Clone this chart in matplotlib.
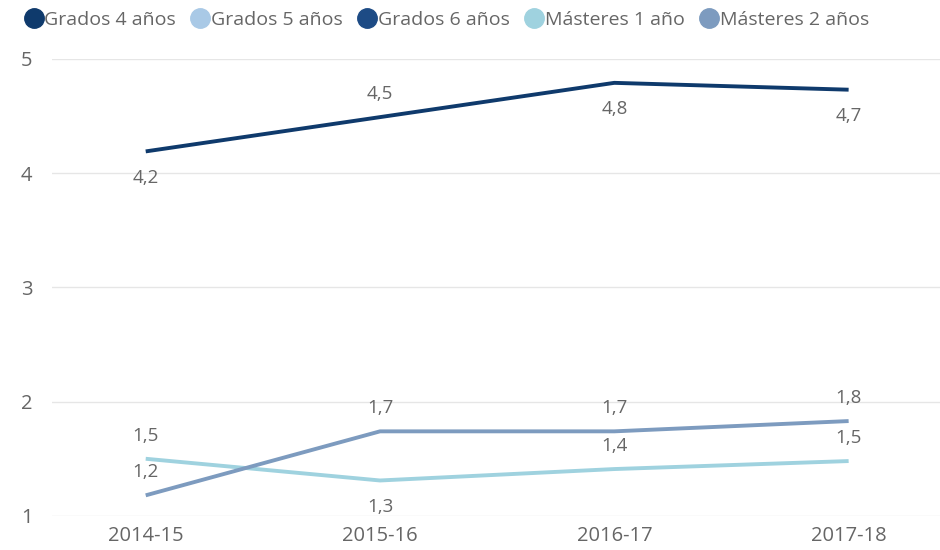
import matplotlib.pyplot as plt
from matplotlib.lines import Line2D

cursos = ["2014-15", "2015-16", "2016-17", "2017-18"]
grados_4 = [4.19, 4.49, 4.79, 4.73]
masteres_1 = [1.50, 1.31, 1.41, 1.48]
masteres_2 = [1.18, 1.74, 1.74, 1.83]

series = ["Grados 4 años", "Grados 5 años", "Grados 6 años", "Másteres 1 año", "Másteres 2 años"]
colores = ["#0f3a6c", "#a9c9e6", "#1d4b85", "#9fd2df", "#7d9bbf"]

# posiciones de las etiquetas: 1 = encima, -1 = debajo
pos_g4 = [-1, 1, -1, -1]
pos_m1 = [1, -1, 1, 1]
pos_m2 = [1, 1, 1, 1]

plt.rcParams["font.family"] = ["Open Sans", "DejaVu Sans"]
gris = "#666666"

fig = plt.figure(figsize=(9.4, 5.5), dpi=100)
ax = fig.add_axes([0.0553, 0.062, 0.9447, 0.831])

x = list(range(len(cursos)))
for vals, col, pos in [(grados_4, colores[0], pos_g4),
                       (masteres_1, colores[3], pos_m1),
                       (masteres_2, colores[4], pos_m2)]:
    ax.plot(x, vals, color=col, lw=2.8, solid_capstyle="butt")
    for xi, v, p in zip(x, vals, pos):
        off = 16.5 if p > 0 else -19
        ax.annotate(f"{v:.1f}".replace(".", ","), (xi, v),
                    xytext=(0, off), textcoords="offset points",
                    ha="center", va="center", fontsize=13.5, color=gris)

ax.set_xlim(-0.4, 3.39)
ax.set_ylim(1, 5)
ax.set_yticks([1, 2, 3, 4, 5])
ax.set_xticks(x)
ax.set_xticklabels(cursos)
ax.grid(axis="y", color="#e6e6e6", lw=1)
ax.set_axisbelow(True)
for s in ax.spines.values():
    s.set_visible(False)
ax.tick_params(length=0, labelsize=14.5, labelcolor=gris)
ax.tick_params(axis="y", pad=14)
ax.tick_params(axis="x", pad=7)

handles = [Line2D([], [], marker="o", ls="", markersize=14, color=c) for c in colores]
fig.legend(handles, series, loc="upper left", bbox_to_anchor=(0.014, 1.0), ncol=5,
           frameon=False, fontsize=14, labelcolor=gris, handletextpad=0.05,
           columnspacing=0.75, handlelength=1.0, borderaxespad=0.15)

fig.savefig("out.png", dpi=100)
